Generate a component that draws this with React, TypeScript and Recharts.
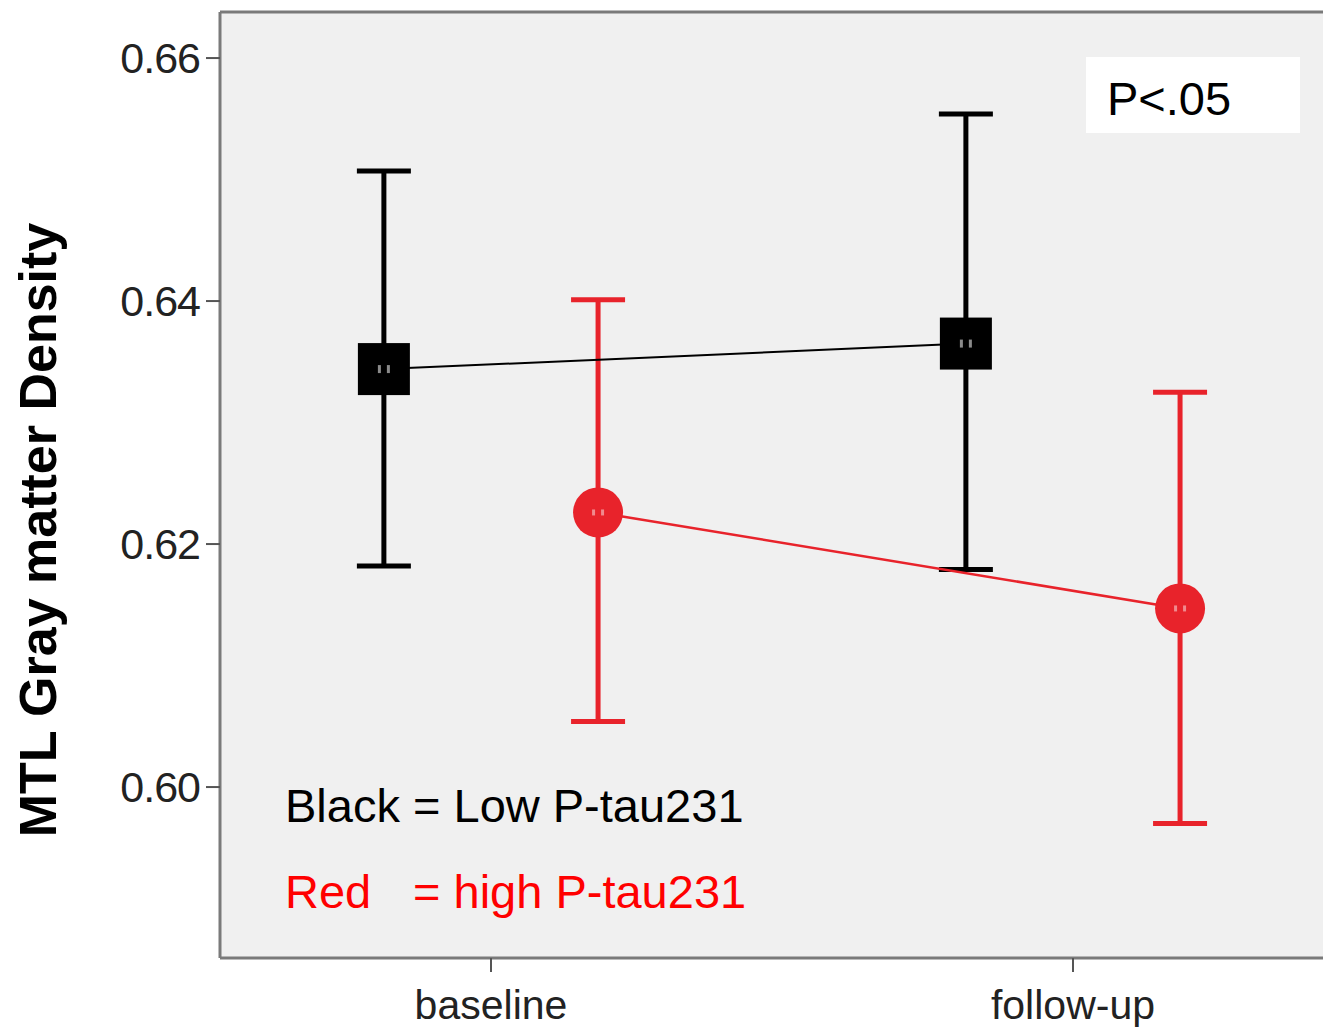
import React from 'react';
import { ComposedChart, Scatter, XAxis, YAxis, CartesianGrid, ErrorBar, ReferenceLine } from 'recharts';

const timepoints = ['baseline', 'follow-up'];
const lowMean = [0.6344, 0.6365];
const lowLower = [0.6182, 0.6179];
const lowUpper = [0.6507, 0.6554];
const highMean = [0.6226, 0.6147];
const highLower = [0.6054, 0.597];
const highUpper = [0.6401, 0.6325];
const yTicks = [0.6, 0.62, 0.64, 0.66];

const W = 1323;
const H = 1029;
const FONT = '"Liberation Sans", Arial, Helvetica, sans-serif';
const GROUP_OFFSET = 0.184;
const RED = '#e8232b';
const Y_DOMAIN: [number, number] = [0.58593, 0.66379];
const X_DOMAIN: [number, number] = [-0.4656, 1.4296];

// each point sits left/right of its timepoint; error is [below, above] the mean
const buildSeries = (mean: number[], lower: number[], upper: number[], shift: number) =>
    mean.map((m, i) => ({ x: i + shift, y: m, err: [m - lower[i], upper[i] - m] }));

const lowData = buildSeries(lowMean, lowLower, lowUpper, -GROUP_OFFSET);
const highData = buildSeries(highMean, highLower, highUpper, GROUP_OFFSET);

const SquareDot = (props: any) => {
    const { cx, cy } = props;
    return (
        <g>
            <rect x={cx - 26} y={cy - 26} width={52} height={52} fill="#000" />
            <rect x={cx - 6} y={cy - 4} width={3} height={8} fill="#8a8a8a" />
            <rect x={cx + 3} y={cy - 4} width={3} height={8} fill="#8a8a8a" />
        </g>
    );
};

const CircleDot = (props: any) => {
    const { cx, cy } = props;
    return (
        <g>
            <circle cx={cx} cy={cy} r={25} fill={RED} />
            <rect x={cx - 6} y={cy - 3} width={3} height={6} fill="#f08a8e" />
            <rect x={cx + 3} y={cy - 3} width={3} height={6} fill="#f08a8e" />
        </g>
    );
};

const App: React.FC = () => {
    return (
        <div style={{ position: 'relative', width: W, height: H, background: '#fff' }}>
            <style>{'body{margin:0}'}</style>
            <ComposedChart width={W} height={H} margin={{ top: 12, right: 0, bottom: 0, left: 0 }}>
                <CartesianGrid fill="#f0f0f0" horizontal={false} vertical={false} />
                <XAxis
                    dataKey="x"
                    type="number"
                    domain={X_DOMAIN}
                    allowDataOverflow
                    ticks={[0, 1]}
                    tickFormatter={(v: number) => timepoints[Math.round(v)]}
                    height={71}
                    tickSize={14}
                    tickMargin={18}
                    axisLine={{ stroke: '#7a7a7a', strokeWidth: 3 }}
                    tickLine={{ stroke: '#555', strokeWidth: 2 }}
                    tick={{ fill: '#222', fontSize: 41, fontFamily: FONT }}
                />
                <YAxis
                    dataKey="y"
                    type="number"
                    domain={Y_DOMAIN}
                    allowDataOverflow
                    ticks={yTicks}
                    tickFormatter={(v: number) => v.toFixed(2)}
                    width={220}
                    tickSize={14}
                    tickMargin={6}
                    axisLine={{ stroke: '#7a7a7a', strokeWidth: 3 }}
                    tickLine={{ stroke: '#555', strokeWidth: 2 }}
                    tick={{ fill: '#222', fontSize: 43, fontFamily: FONT, letterSpacing: -1 }}
                />
                <ReferenceLine y={Y_DOMAIN[1]} stroke="#7a7a7a" strokeWidth={3} ifOverflow="visible" />
                <Scatter
                    data={highData}
                    dataKey="y"
                    fill={RED}
                    shape={CircleDot}
                    line={{ stroke: RED, strokeWidth: 2.5 }}
                    isAnimationActive={false}
                >
                    <ErrorBar dataKey="err" direction="y" width={27} stroke={RED} strokeWidth={5} isAnimationActive={false} />
                </Scatter>
                <Scatter
                    data={lowData}
                    dataKey="y"
                    fill="#000"
                    shape={SquareDot}
                    line={{ stroke: '#000', strokeWidth: 2 }}
                    isAnimationActive={false}
                >
                    <ErrorBar dataKey="err" direction="y" width={27} stroke="#000" strokeWidth={5} isAnimationActive={false} />
                </Scatter>
            </ComposedChart>
            <svg
                width={W}
                height={H}
                style={{ position: 'absolute', left: 0, top: 0, pointerEvents: 'none' }}
                fontFamily={FONT}
            >
                <text transform="translate(56,530) rotate(-90)" textAnchor="middle" fontSize={52} fontWeight="bold" fill="#000">
                    MTL Gray matter Density
                </text>
                <rect x={1086} y={57} width={214} height={76} fill="#fff" />
                <text x={1107} y={115} fontSize={47} fill="#000">P&lt;.05</text>
                <text x={285} y={822} fontSize={47} fill="#000">Black = Low P-tau231</text>
                <text x={285} y={908} fontSize={47} fill="#ff0000">Red</text>
                <text x={413} y={908} fontSize={47} fill="#ff0000">= high P-tau231</text>
            </svg>
        </div>
    );
};

export default App;
